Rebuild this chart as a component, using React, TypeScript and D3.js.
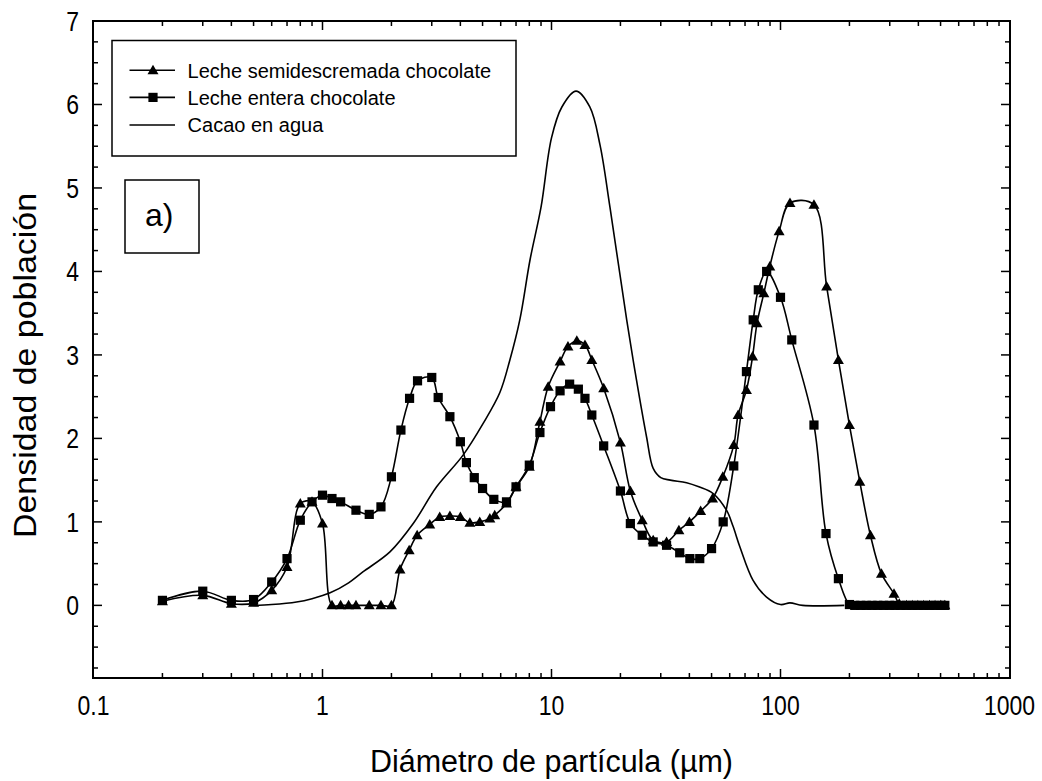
import React from "react";
import * as d3 from "d3";

// ---- Data ----
const semiX = [0.2, 0.3, 0.4, 0.5, 0.6, 0.7, 0.8, 0.9, 1.0, 1.1, 1.2, 1.3, 1.4, 1.6, 1.8, 2.0, 2.18, 2.39, 2.59, 2.94, 3.25, 3.6, 4.0, 4.4, 4.86, 5.38, 5.65, 6.36, 7.0, 8.0, 8.9, 9.67, 10.9, 11.8, 12.9, 14.0, 15.0, 16.9, 20.0, 22.1, 24.9, 27.8, 31.8, 36, 40, 44.8, 50.5, 56, 62.5, 65.3, 71, 75.5, 79, 84.6, 89.8, 98.6, 110, 140, 159, 179, 200, 222, 247, 276, 313, 330, 355, 376, 398, 422, 447, 473, 501, 522];
const semiY = [0.05, 0.12, 0.02, 0.03, 0.18, 0.46, 1.22, 1.24, 0.98, 0.0, 0.0, 0.0, 0.0, 0.0, 0.0, 0.0, 0.43, 0.66, 0.84, 0.97, 1.06, 1.07, 1.06, 0.99, 1.0, 1.04, 1.08, 1.22, 1.42, 1.66, 2.2, 2.62, 2.92, 3.1, 3.17, 3.12, 2.94, 2.6, 1.95, 1.37, 1.02, 0.78, 0.76, 0.9, 1.0, 1.13, 1.28, 1.54, 1.92, 2.28, 2.58, 2.98, 3.38, 3.74, 4.06, 4.48, 4.82, 4.8, 3.82, 2.94, 2.16, 1.48, 0.84, 0.38, 0.14, 0.02, 0.0, 0.0, 0.0, 0.0, 0.0, 0.0, 0.0, 0.0];

const enteraX = [0.2, 0.3, 0.4, 0.5, 0.6, 0.7, 0.8, 0.9, 1.0, 1.1, 1.2, 1.4, 1.6, 1.8, 2.0, 2.2, 2.4, 2.6, 3.0, 3.2, 3.6, 4.0, 4.25, 4.6, 5.0, 5.6, 6.36, 7.0, 8.0, 8.9, 9.9, 10.9, 12.0, 13.1, 14.0, 15.0, 16.9, 20.0, 22.1, 24.9, 27.8, 31.8, 36.3, 40.2, 44.4, 50.0, 56.2, 62.5, 71, 76, 80, 87, 100, 112, 140, 158, 179, 200, 211, 224, 237, 251, 266, 282, 299, 316, 335, 355, 376, 398, 422, 447, 473, 501, 522];
const enteraY = [0.06, 0.17, 0.06, 0.07, 0.28, 0.56, 1.02, 1.24, 1.32, 1.28, 1.24, 1.14, 1.09, 1.18, 1.54, 2.1, 2.48, 2.69, 2.73, 2.49, 2.26, 1.96, 1.71, 1.53, 1.4, 1.27, 1.24, 1.42, 1.68, 2.07, 2.38, 2.57, 2.65, 2.59, 2.48, 2.28, 1.91, 1.37, 0.98, 0.84, 0.76, 0.72, 0.63, 0.56, 0.56, 0.68, 1.0, 1.67, 2.8, 3.42, 3.78, 4.0, 3.69, 3.18, 2.16, 0.86, 0.32, 0.01, 0.0, 0.0, 0.0, 0.0, 0.0, 0.0, 0.0, 0.0, 0.0, 0.0, 0.0, 0.0, 0.0, 0.0, 0.0, 0.0, 0.0];

const cacaoX = [0.5, 0.6, 0.77, 0.9, 1.08, 1.3, 1.5, 1.97, 2.49, 3.15, 4.11, 5.03, 5.95, 6.58, 7.27, 8.06, 9.0, 10, 11.1, 12.8, 14.7, 16.3, 18, 21.3, 23.5, 26, 27.8, 30, 33, 38.9, 44, 50.8, 58.1, 62, 66.5, 75.9, 86.9, 100, 110, 125, 190];
const cacaoY = [0.0, 0.01, 0.04, 0.08, 0.15, 0.27, 0.4, 0.64, 0.98, 1.42, 1.8, 2.18, 2.55, 2.94, 3.42, 4.14, 4.77, 5.6, 5.97, 6.16, 5.97, 5.51, 4.77, 3.42, 2.7, 2.02, 1.64, 1.53, 1.5, 1.47, 1.42, 1.34, 1.14, 0.95, 0.7, 0.3, 0.1, 0.01, 0.03, 0.0, 0.0];

const xTickValues = [0.1, 1, 10, 100, 1000];
const xTickLabels = ["0.1", "1", "10", "100", "1000"];
const yTickValues = [0, 1, 2, 3, 4, 5, 6, 7];
const yTickLabels = ["0", "1", "2", "3", "4", "5", "6", "7"];
const legendLabels = ["Leche semidescremada chocolate", "Leche entera chocolate", "Cacao en agua"];
const xTitle = "Diámetro de partícula (µm)";
const yTitle = "Densidad de población";
const panelLabel = "a)";

const FONT = "'Liberation Sans', Arial, sans-serif";

export default function App() {
  const W = 1042, H = 781;
  const left = 93, right = 1010, top = 21, bottom = 678;
  const x = d3.scaleLog().domain([0.1, 1000]).range([left + 0.5, right - 0.5]);
  const y = d3.scaleLinear().domain([-0.87, 7]).range([bottom, top]);

  const line = d3
    .line<[number, number]>()
    .x((d) => x(d[0]))
    .y((d) => y(d[1]))
    .curve(d3.curveCatmullRom.alpha(0.5));

  const semi: [number, number][] = semiX.map((v, i) => [v, semiY[i]]);
  const entera: [number, number][] = enteraX.map((v, i) => [v, enteraY[i]]);
  const cacao: [number, number][] = cacaoX.map((v, i) => [v, cacaoY[i]]);

  const tri = "M0,-5.5L5.5,4L-5.5,4Z";
  const sq = 4.6;

  // log ticks
  const minorX: number[] = [];
  [0.1, 1, 10, 100].forEach((dec) => {
    for (let k = 2; k <= 9; k++) minorX.push(dec * k);
  });
  const majorX = [1, 10, 100];
  const minorY: number[] = [];
  for (let v = -0.75; v <= 7.001; v += 0.25) {
    if (Math.abs(v - Math.round(v)) > 1e-6) minorY.push(v);
  }

  return (
    <div style={{ position: "absolute", left: 0, top: 0 }}>
      <svg width={W} height={H} style={{ display: "block", background: "#fff" }}>
        <rect x={0} y={0} width={W} height={H} fill="#fff" />
        {/* ticks */}
        <g stroke="#000" strokeWidth={1.5}>
          {minorX.map((v) => (
            <g key={"mx" + v}>
              <line x1={x(v)} x2={x(v)} y1={bottom} y2={bottom - 5} />
              <line x1={x(v)} x2={x(v)} y1={top} y2={top + 5} />
            </g>
          ))}
          {majorX.map((v) => (
            <g key={"Mx" + v}>
              <line x1={x(v)} x2={x(v)} y1={bottom} y2={bottom - 9} />
              <line x1={x(v)} x2={x(v)} y1={top} y2={top + 9} />
            </g>
          ))}
          {minorY.map((v) => (
            <g key={"my" + v}>
              <line x1={left} x2={left + 5} y1={y(v)} y2={y(v)} />
              <line x1={right} x2={right - 5} y1={y(v)} y2={y(v)} />
            </g>
          ))}
          {yTickValues.map((v) => (
            <g key={"My" + v}>
              <line x1={left} x2={left + 9} y1={y(v)} y2={y(v)} />
              <line x1={right} x2={right - 9} y1={y(v)} y2={y(v)} />
            </g>
          ))}
        </g>
        {/* frame */}
        <rect x={left} y={top} width={right - left} height={bottom - top} fill="none" stroke="#000" strokeWidth={2} />

        {/* tick labels */}
        <g fontFamily={FONT} fontSize={23} fill="#000">
          {xTickValues.map((v, i) => (
            <text key={"xl" + v} transform={`translate(${x(v)},${715}) scale(1,1.2)`} textAnchor="middle">
              {xTickLabels[i]}
            </text>
          ))}
          {yTickValues.map((v, i) => (
            <text key={"yl" + v} transform={`translate(${79},${y(v) + 10}) scale(1,1.2)`} textAnchor="end">
              {yTickLabels[i]}
            </text>
          ))}
        </g>

        {/* titles */}
        <text x={551.5} y={772} textAnchor="middle" fontFamily={FONT} fontSize={31} textLength={363} lengthAdjust="spacingAndGlyphs">
          {xTitle}
        </text>
        <text transform={`translate(36,${365.5}) rotate(-90)`} textAnchor="middle" fontFamily={FONT} fontSize={31} textLength={345} lengthAdjust="spacingAndGlyphs">
          {yTitle}
        </text>

        {/* series */}
        <g fill="none" stroke="#000" strokeWidth={1.6}>
          <path d={line(cacao) || ""} />
          <path d={line(entera) || ""} />
          <path d={line(semi) || ""} />
        </g>
        <g fill="#000">
          {entera.map((d, i) => (
            <rect key={"s" + i} x={x(d[0]) - sq} y={y(d[1]) - sq} width={sq * 2} height={sq * 2} />
          ))}
          {semi.map((d, i) => (
            <path key={"t" + i} d={tri} transform={`translate(${x(d[0])},${y(d[1])})`} />
          ))}
        </g>

        {/* legend */}
        <rect x={112} y={40.5} width={404} height={115.5} fill="#fff" stroke="#000" strokeWidth={1.5} />
        {legendLabels.map((lab, i) => {
          const ly = [70.3, 97.4, 125][i];
          return (
            <g key={"lg" + i}>
              <line x1={129.5} x2={175} y1={ly} y2={ly} stroke="#000" strokeWidth={1.6} />
              {i === 0 && <path d={tri} transform={`translate(153,${ly})`} fill="#000" />}
              {i === 1 && <rect x={153 - sq} y={ly - sq} width={sq * 2} height={sq * 2} fill="#000" />}
              <text x={187.6} y={ly + 7.2} fontFamily={FONT} fontSize={20} fill="#000">
                {lab}
              </text>
            </g>
          );
        })}

        {/* panel label */}
        <rect x={125} y={180} width={74} height={73} fill="#fff" stroke="#000" strokeWidth={1.5} />
        <text x={145} y={226} fontFamily={FONT} fontSize={32} fill="#000">
          {panelLabel}
        </text>
      </svg>
    </div>
  );
}
